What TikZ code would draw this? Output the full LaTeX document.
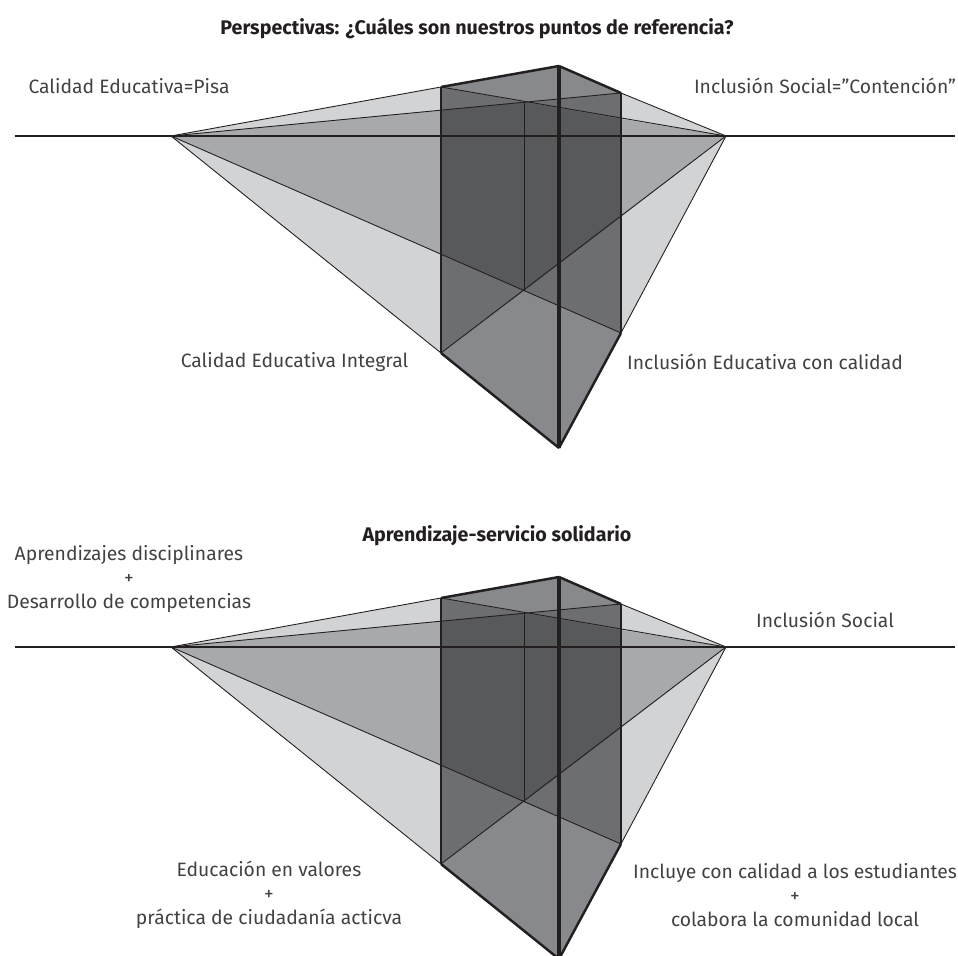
\documentclass[tikz,border=0pt]{standalone}
\usepackage{fontspec}
\setmainfont{Fira Sans}
\usetikzlibrary{positioning}

\definecolor{grisA}{HTML}{D1D3D4}
\definecolor{grisB}{HTML}{A7A9AC}
\definecolor{grisC}{HTML}{87898C}
\definecolor{grisD}{HTML}{6D6E71}
\definecolor{grisE}{HTML}{58595B}
\definecolor{tinta}{HTML}{231F20}

\tikzset{
    fino/.style={draw=tinta,line width=0.5pt},
    medio/.style={draw=tinta,line width=0.8pt},
    grueso/.style={draw=tinta,line width=1.4pt},
    frente/.style={draw=tinta,line width=1.8pt},
    etiqueta/.style={text=tinta!85,align=center,inner sep=0pt,font=\fontsize{11}{13.7}\selectfont},
    titulo/.style={text=tinta,inner sep=0pt,font=\fontsize{11.2}{13}\selectfont\bfseries}
}

\begin{document}
\begin{tikzpicture}[x=2cm,y=2cm]
    \useasboundingbox (0,0) rectangle (9.58,9.56);
    \clip (0,0) rectangle (9.58,9.56);

    \foreach \pre/\dy in {S/0,I/-5.11} {
    \begin{scope}[yshift=\dy*2cm]
        % Horizon and vanishing points
        \coordinate (\pre HL) at (0.15,8.20);
        \coordinate (\pre HR) at (9.55,8.20);
        \coordinate (\pre V1) at (1.71,8.20);
        \coordinate (\pre V2) at (7.26,8.20);

        % Corners of the box
        \coordinate (\pre T) at (5.59,8.90);
        \coordinate (\pre B) at (5.59,5.08);
        \coordinate (\pre Lt) at (4.41,8.69);
        \coordinate (\pre Lb) at (4.41,6.03);
        \coordinate (\pre Rt) at (6.21,8.63);
        \coordinate (\pre Rb) at (6.21,6.23);
        \coordinate (\pre Ct) at (5.24,8.54);
        \coordinate (\pre Cb) at (5.24,6.65);

        % Where the inner rays meet the outer edges
        \coordinate (\pre Lu) at (4.41,8.46);
        \coordinate (\pre Ld) at (4.41,7.02);
        \coordinate (\pre Ru) at (6.21,8.37);
        \coordinate (\pre Rd) at (6.21,7.39);

        % Fills
        \fill[grisA] (\pre V1) -- (\pre Lt) -- (\pre Lb) -- cycle;
        \fill[grisA] (\pre V2) -- (\pre Rt) -- (\pre Rb) -- cycle;
        \fill[grisB] (\pre V1) -- (\pre Lu) -- (\pre Ld) -- cycle;
        \fill[grisB] (\pre V2) -- (\pre Ru) -- (\pre Rd) -- cycle;
        \fill[grisC] (\pre Lt) -- (\pre T) -- (\pre Rt) -- (\pre Rb) -- (\pre B) -- (\pre Lb) -- cycle;
        \fill[grisD] (\pre Lt) -- (\pre Ct) -- (\pre Rt) -- (\pre Rb) -- (\pre Cb) -- (\pre Lb) -- cycle;
        \fill[grisE] (\pre Lu) -- (\pre Ct) -- (\pre Ru) -- (\pre Rd) -- (\pre Cb) -- (\pre Ld) -- cycle;

        % Rays from the left point
        \path[fino] (\pre V1) edge (\pre Lt);
        \path[fino] (\pre V1) edge (\pre Rt);
        \path[fino] (\pre V1) edge (\pre Rb);
        \path[fino] (\pre V1) edge (\pre Lb);

        % Rays from the right point
        \path[fino] (\pre V2) edge (\pre Rt);
        \path[fino] (\pre V2) edge (\pre Lt);
        \path[fino] (\pre V2) edge (\pre Lb);
        \path[fino] (\pre V2) edge (\pre Rb);

        % Horizon
        \path[medio] (\pre HL) edge (\pre HR);

        % Edges of the box
        \path[fino] (\pre Ct) edge (\pre Cb);
        \path[medio] (\pre Lt) edge (\pre Lb);
        \path[medio] (\pre Rt) edge (\pre Rb);
        \path[frente] (\pre T) edge (\pre B);
        \path[grueso] (\pre Lt) edge (\pre T);
        \path[grueso] (\pre T) edge (\pre Rt);
        \path[grueso] (\pre Lb) edge (\pre B);
        \path[grueso] (\pre B) edge (\pre Rb);
    \end{scope}
    }

    % Upper picture
    \node[titulo] (tit1) at (4.77,9.28) {Perspectivas: ¿Cuáles son nuestros puntos de referencia?};
    \node[etiqueta] (cal1) at (1.29,8.70) {Calidad Educativa=Pisa};
    \node[etiqueta] (inc1) at (8.25,8.70) {Inclusión Social=”Contención”};
    \node[etiqueta] (cal2) at (2.945,5.94) {Calidad Educativa Integral};
    \node[etiqueta] (inc2) at (7.65,5.94) {Inclusión Educativa con calidad};

    % Lower picture
    \node[titulo] (tit2) at (4.97,4.20) {Aprendizaje-servicio solidario};
    \node[etiqueta] (apr) at (1.29,3.77) {Aprendizajes disciplinares\\+\\Desarrollo de competencias};
    \node[etiqueta] (soc) at (8.25,3.36) {Inclusión Social};
    \node[etiqueta] (edu) at (2.69,0.61) {Educación en valores\\+\\práctica de ciudadanía acticva};
    \node[etiqueta] (est) at (7.95,0.61) {Incluye con calidad a los estudiantes\\+\\colabora la comunidad local};
\end{tikzpicture}
\end{document}
